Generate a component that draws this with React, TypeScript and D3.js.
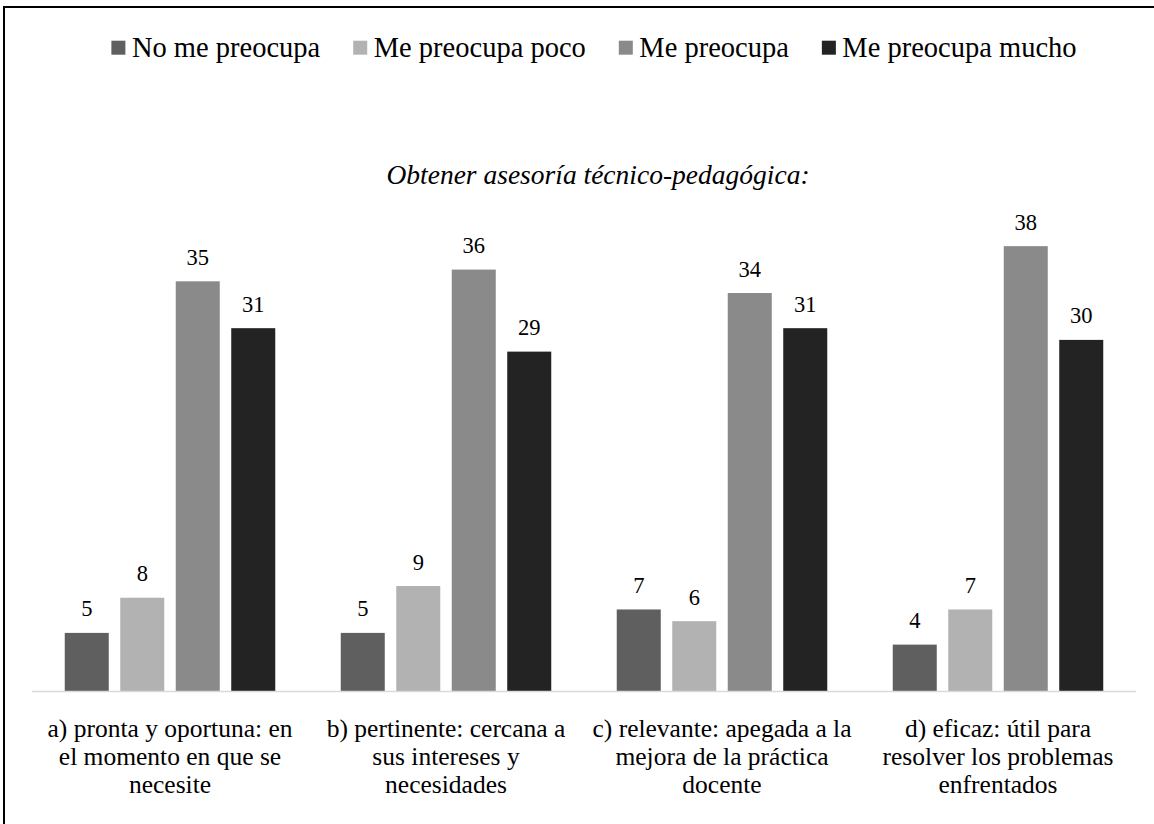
import React from "react";
import * as d3 from "d3";

const categories = ["a", "b", "c", "d"];
const categoryLines: string[][] = [
  ["a) pronta y oportuna: en", "el momento en que se", "necesite"],
  ["b) pertinente: cercana a", "sus intereses y", "necesidades"],
  ["c) relevante: apegada a la", "mejora de la práctica", "docente"],
  ["d) eficaz: útil para", "resolver los problemas", "enfrentados"],
];
const seriesNames = ["No me preocupa", "Me preocupa poco", "Me preocupa", "Me preocupa mucho"];
const seriesColors = ["#5f5f5f", "#b2b2b2", "#8a8a8a", "#232323"];
const noMePreocupa = [5, 5, 7, 4];
const mePreocupaPoco = [8, 9, 6, 7];
const mePreocupa = [35, 36, 34, 38];
const mePreocupaMucho = [31, 29, 31, 30];
const subtitle = "Obtener asesoría técnico-pedagógica:";

const W = 1154;
const H = 824;
const FAMILY = "Liberation Serif, Times New Roman, serif";
const LEGEND_SIZE = 28.5;
const LABEL_SIZE = 25.5;
const VALUE_SIZE = 22.5;
const SUBTITLE_SIZE = 27.5;

function measure(text: string, size: number): number {
  const canvas = document.createElement("canvas");
  const ctx = canvas.getContext("2d");
  if (!ctx) return text.length * size * 0.45;
  ctx.font = `${size}px "Liberation Serif", serif`;
  return ctx.measureText(text).width;
}

export default function App() {
  const seriesValues = [noMePreocupa, mePreocupaPoco, mePreocupa, mePreocupaMucho];
  const baseY = 691.5;

  const x0 = d3.scaleBand<string>().domain(categories).range([32, 1136]).padding(0);
  const x1 = d3
    .scaleBand<number>()
    .domain(d3.range(seriesNames.length))
    .range([0, x0.bandwidth()])
    .paddingInner(0.207)
    .paddingOuter(0.59);
  const y = d3.scaleLinear().domain([0, 40]).range([baseY, baseY - 40 * 11.72]);

  // legend layout from measured text widths, centred over the plot
  const sq = 14;
  const sqGap = 6.5;
  const itemGap = 33;
  const widths = seriesNames.map((n) => sq + sqGap + measure(n, LEGEND_SIZE));
  const total = d3.sum(widths) + itemGap * (widths.length - 1);
  const legendStart = 594 - total / 2;
  const legendX = widths.map((_, i) => legendStart + d3.sum(widths.slice(0, i)) + itemGap * i);

  return (
    <div style={{ position: "absolute", left: 0, top: 0, width: W, height: H, fontFamily: FAMILY, background: "#fff" }}>
      <svg width={W} height={H} fontFamily={FAMILY} style={{ display: "block" }}>
        {/* frame: left and top edges */}
        <path d="M4,830 L4,7 L1160,7" fill="none" stroke="#000" strokeWidth={2} />

        {/* legend */}
        {seriesNames.map((name, i) => (
          <g key={name} transform={`translate(${legendX[i]},57.3)`}>
            <rect x={0} y={-16.6} width={sq} height={sq} fill={seriesColors[i]} />
            <text x={sq + sqGap} y={0} fontSize={LEGEND_SIZE} fill="#000" fontFamily={FAMILY}>
              {name}
            </text>
          </g>
        ))}

        {/* subtitle */}
        <text
          x={598}
          y={184}
          textAnchor="middle"
          fontSize={SUBTITLE_SIZE}
          fontStyle="italic"
          fill="#000"
          fontFamily={FAMILY}
        >
          {subtitle}
        </text>

        {/* bars and value labels */}
        {categories.map((c, ci) => (
          <g key={c} transform={`translate(${x0(c)},0)`}>
            {seriesValues.map((vals, si) => {
              const v = vals[ci];
              const bx = x1(si)!;
              return (
                <g key={si}>
                  <rect x={bx} y={y(v)} width={x1.bandwidth()} height={baseY - y(v)} fill={seriesColors[si]} />
                  <text
                    x={bx + x1.bandwidth() / 2}
                    y={y(v) - 16.5}
                    textAnchor="middle"
                    fontSize={VALUE_SIZE}
                    fill="#000"
                    fontFamily={FAMILY}
                  >
                    {v}
                  </text>
                </g>
              );
            })}
          </g>
        ))}

        {/* baseline */}
        <line x1={x0.range()[0]} x2={x0.range()[1]} y1={baseY} y2={baseY} stroke="#d9d9d9" strokeWidth={1.5} />

        {/* category labels */}
        {categories.map((c, ci) => (
          <text key={c} textAnchor="middle" fontSize={LABEL_SIZE} fill="#000" fontFamily={FAMILY}>
            {categoryLines[ci].map((line, li) => (
              <tspan key={li} x={x0(c)! + x0.bandwidth() / 2} y={736.7 + li * 28.3}>
                {line}
              </tspan>
            ))}
          </text>
        ))}
      </svg>
    </div>
  );
}
